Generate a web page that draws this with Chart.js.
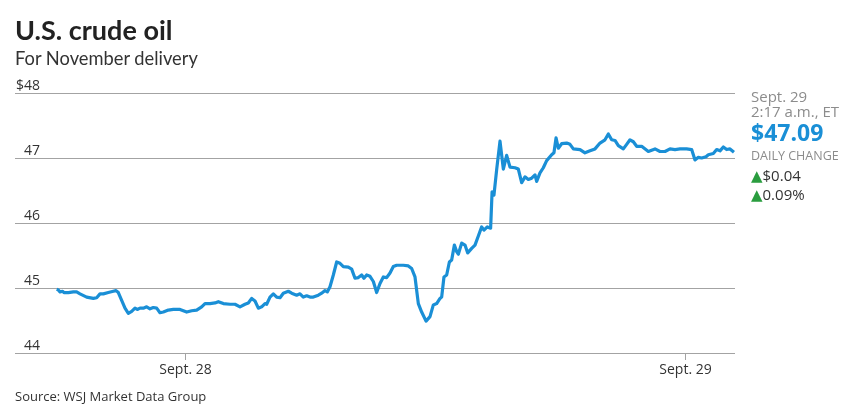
<!DOCTYPE html>
<html>
<head>
<meta charset="utf-8">
<script src="https://cdn.jsdelivr.net/npm/chart.js@4"></script>
<style>
    body { margin: 0; background: #fff; }
    #wrap { position: relative; width: 858px; height: 416px; overflow: hidden; }
    #grafico { position: absolute; left: 0; top: 0; }
    .txt { position: absolute; line-height: 1; white-space: nowrap; }
    #titulo { left: 15px; top: 13px; font: 700 27px Lato, sans-serif; color: #222; }
    #subtitulo { left: 15px; top: 47px; font: 400 18.3px Lato, sans-serif; color: #333; }
    .nota { left: 751px; font-family: "Open Sans", sans-serif; color: #8c8c8c; }
    #fonte { left: 15px; top: 387px; font: 400 13px "Open Sans", sans-serif; color: #333; }
    .up { color: #2a9d3f; font-family: "DejaVu Sans", sans-serif; font-size: 15px; }
</style>
</head>
<body>
<div id="wrap">
    <canvas id="grafico" width="858" height="416"></canvas>
    <div class="txt" id="titulo">U.S. crude oil</div>
    <div class="txt" id="subtitulo">For November delivery</div>
    <div class="txt nota" style="top:89px;font-size:15px">Sept. 29</div>
    <div class="txt nota" style="top:104px;font-size:15px">2:17 a.m., ET</div>
    <div class="txt nota" style="top:121px;font-size:23px;font-weight:700;color:#1a8fd6">$47.09</div>
    <div class="txt nota" style="top:150px;font-size:12.5px">DAILY CHANGE</div>
    <div class="txt nota" style="top:168px;font-size:15px;color:#333"><span class="up">▲</span>$0.04</div>
    <div class="txt nota" style="top:187px;font-size:15px;color:#333"><span class="up">▲</span>0.09%</div>
    <div class="txt" id="fonte">Source: WSJ Market Data Group</div>
</div>
<script>
// horas a partir de 28/set 00:00 (ET)
const horas = [
    -6.16, -6.08, -6.00, -5.87, -5.81, -5.60, -5.36, -5.20, -5.04, -4.72,
    -4.40, -4.24, -4.08, -3.92, -3.68, -3.44, -3.31, -3.20, -3.04, -2.88,
    -2.72, -2.56, -2.40, -2.29, -2.16, -2.00, -1.84, -1.68, -1.52, -1.36,
    -1.20, -1.04, -0.80, -0.56, -0.24, -0.08, 0.08, 0.32, 0.56, 0.80,
    0.96, 1.20, 1.44, 1.60, 1.84, 2.16, 2.40, 2.64, 2.88, 3.04,
    3.20, 3.36, 3.52, 3.68, 3.84, 3.92, 4.08, 4.24, 4.40, 4.56,
    4.72, 4.96, 5.12, 5.36, 5.52, 5.68, 5.84, 6.00, 6.16, 6.40,
    6.56, 6.72, 6.83, 6.96, 7.12, 7.28, 7.44, 7.60, 7.84, 8.00,
    8.16, 8.32, 8.48, 8.59, 8.72, 8.88, 9.04, 9.20, 9.36, 9.52,
    9.68, 9.84, 10.00, 10.16, 10.48, 10.72, 10.88, 11.04, 11.20, 11.36,
    11.57, 11.76, 11.92, 12.08, 12.24, 12.32, 12.43, 12.56, 12.69, 12.80,
    12.93, 13.04, 13.12, 13.28, 13.44, 13.57, 13.76, 13.92, 14.08, 14.24,
    14.35, 14.51, 14.67, 14.74, 14.83, 14.96, 15.12, 15.28, 15.44, 15.60,
    15.84, 16.00, 16.16, 16.32, 16.48, 16.64, 16.80, 16.88, 17.04, 17.20,
    17.36, 17.60, 17.71, 17.81, 17.92, 18.08, 18.32, 18.48, 18.64, 18.96,
    19.20, 19.44, 19.68, 19.92, 20.16, 20.32, 20.48, 20.64, 20.80, 21.04,
    21.20, 21.36, 21.52, 21.68, 21.92, 22.24, 22.56, 22.80, 23.04, 23.28,
    23.52, 23.76, 24.08, 24.32, 24.48, 24.64, 24.80, 25.01, 25.12, 25.36,
    25.52, 25.68, 25.84, 26.00, 26.16, 26.35
];
const precos = [
    44.98, 44.97, 44.94, 44.95, 44.93, 44.93, 44.94, 44.94, 44.91, 44.86,
    44.84, 44.85, 44.91, 44.91, 44.93, 44.95, 44.96, 44.93, 44.81, 44.69,
    44.61, 44.64, 44.69, 44.67, 44.69, 44.69, 44.71, 44.68, 44.70, 44.69,
    44.62, 44.63, 44.66, 44.67, 44.67, 44.65, 44.63, 44.65, 44.66, 44.71,
    44.76, 44.76, 44.77, 44.79, 44.76, 44.75, 44.75, 44.71, 44.75, 44.77,
    44.84, 44.80, 44.69, 44.71, 44.76, 44.75, 44.86, 44.91, 44.86, 44.85,
    44.92, 44.95, 44.92, 44.89, 44.91, 44.86, 44.88, 44.86, 44.86, 44.89,
    44.92, 44.96, 44.94, 45.02, 45.20, 45.40, 45.38, 45.33, 45.32, 45.29,
    45.15, 45.16, 45.20, 45.15, 45.20, 45.18, 45.10, 44.93, 45.07, 45.17,
    45.16, 45.23, 45.33, 45.35, 45.35, 45.34, 45.30, 45.17, 44.76, 44.63,
    44.49, 44.56, 44.74, 44.76, 44.84, 44.86, 45.17, 45.20, 45.40, 45.43,
    45.66, 45.56, 45.52, 45.69, 45.66, 45.54, 45.61, 45.66, 45.80, 45.94,
    45.89, 45.94, 45.92, 46.48, 46.43, 46.82, 47.26, 46.83, 47.04, 46.86,
    46.85, 46.83, 46.62, 46.71, 46.67, 46.69, 46.74, 46.64, 46.77, 46.85,
    46.96, 47.05, 47.08, 47.31, 47.15, 47.22, 47.23, 47.21, 47.14, 47.13,
    47.08, 47.11, 47.14, 47.23, 47.28, 47.37, 47.28, 47.27, 47.19, 47.14,
    47.21, 47.28, 47.25, 47.18, 47.18, 47.10, 47.14, 47.10, 47.10, 47.14,
    47.13, 47.14, 47.14, 47.13, 46.97, 47.01, 47.00, 47.02, 47.05, 47.07,
    47.13, 47.11, 47.17, 47.13, 47.14, 47.09
];
const valoresY = [44, 45, 46, 47, 48];
const rotulosY = ["44", "45", "46", "47", "$48"];
const valoresX = [0, 24];
const rotulosX = ["Sept. 28", "Sept. 29"];

const cinza = "#a3a3a3";

// rótulos dos eixos desenhados à mão, no estilo do WSJ
const rotulosPlugin = {
    id: "rotulos",
    afterDraw(chart) {
        const c = chart.ctx;
        const sx = chart.scales.x, sy = chart.scales.y;
        const base = chart.chartArea.bottom;
        c.save();
        c.fillStyle = "#333";
        c.font = "14px 'Open Sans'";
        c.textAlign = "right";
        c.textBaseline = "alphabetic";
        valoresY.forEach((v, i) => {
            c.fillText(rotulosY[i], 40, sy.getPixelForValue(v) - 3);
        });
        c.textAlign = "center";
        c.strokeStyle = cinza;
        c.lineWidth = 1;
        valoresX.forEach((v, i) => {
            const px = Math.round(sx.getPixelForValue(v)) + 0.5;
            c.beginPath();
            c.moveTo(px, base);
            c.lineTo(px, base + 7);
            c.stroke();
            c.fillText(rotulosX[i], px, base + 21);
        });
        c.restore();
    }
};

const ctx = document.getElementById("grafico").getContext("2d");
new Chart(ctx, {
    type: "line",
    data: {
        datasets: [{
            data: horas.map((h, i) => ({ x: h, y: precos[i] })),
            borderColor: "#1a8fd6",
            borderWidth: 3.2,
            pointRadius: 0,
            tension: 0,
            borderJoinStyle: "round"
        }]
    },
    options: {
        responsive: false,
        animation: false,
        layout: {
            autoPadding: false,
            padding: { left: 15, right: 123, top: 93, bottom: 63 }
        },
        plugins: {
            legend: { display: false },
            tooltip: { enabled: false }
        },
        scales: {
            x: {
                type: "linear",
                min: -8.16,
                max: 26.4,
                grid: { display: false, drawTicks: false },
                border: { display: false },
                ticks: { display: false }
            },
            y: {
                min: 44,
                max: 48,
                ticks: { display: false, stepSize: 1 },
                grid: { color: cinza, drawTicks: false, lineWidth: 1 },
                border: { display: false }
            }
        }
    },
    plugins: [rotulosPlugin]
});
</script>
</body>
</html>
